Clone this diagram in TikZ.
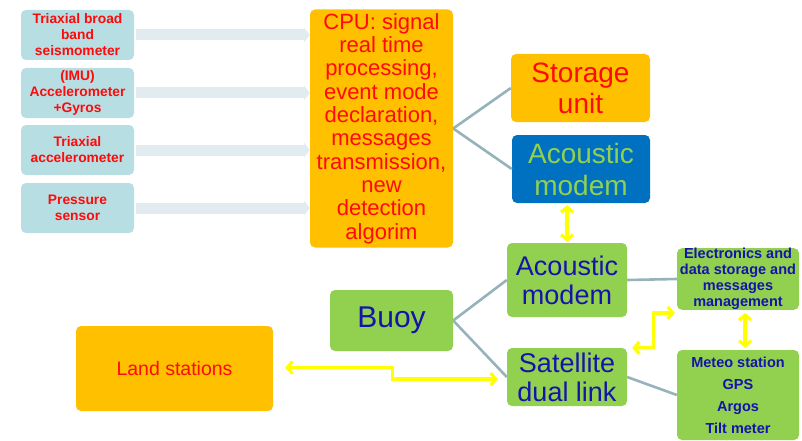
\documentclass[tikz,border=0pt]{standalone}
\usepackage{fontspec}
\setmainfont{Liberation Sans}
\usetikzlibrary{arrows.meta}
\definecolor{sensorfill}{RGB}{183,222,226}
\definecolor{lightarrow}{RGB}{226,236,240}
\definecolor{orangefill}{RGB}{255,192,0}
\definecolor{bluefill}{RGB}{0,112,192}
\definecolor{greenfill}{RGB}{146,208,80}
\definecolor{darkblue}{RGB}{20,20,170}
\definecolor{grayline}{RGB}{150,178,186}
\definecolor{yel}{RGB}{255,255,0}
\definecolor{redtext}{RGB}{255,10,10}
\tikzset{
  box/.style={rounded corners=5pt, inner sep=0pt, align=center},
  sensor/.style={box, fill=sensorfill, text=redtext, minimum width=113pt, minimum height=50pt,
     font=\fontsize{13.8}{16}\selectfont\bfseries},
  orangebox/.style={box, fill=orangefill, text=redtext},
  greenbox/.style={box, fill=greenfill, text=darkblue},
  feed/.style={draw=lightarrow, line width=11pt, -{Triangle[length=6pt,width=15pt]}},
  link/.style={draw=grayline, line width=2.6pt},
  yarrow/.style={draw=yel, line width=3.2pt, {Straight Barb[length=5pt,width=12pt]}-{Straight Barb[length=5pt,width=12pt]}},
}
\begin{document}
\begin{tikzpicture}[x=1pt,y=-1pt]
\path[use as bounding box] (0,0) rectangle (802,441);
% sensors
\node[sensor] (s1) at (77.5,35) {Triaxial broad\\band\\seismometer};
\node[sensor] (s2) at (77.5,93) {(IMU)\\Accelerometer\\+Gyros};
\node[sensor] (s3) at (77.5,150) {Triaxial\\accelerometer};
\node[sensor] (s4) at (77.5,208) {Pressure\\sensor};
% CPU
\node[orangebox, minimum width=143pt, minimum height=238pt,
  font=\fontsize{22}{23.3}\selectfont] (cpu) at (381.5,128.5)
  {CPU: signal\\real time\\processing,\\event mode\\declaration,\\messages\\transmission,\\new\\detection\\algorim};
\node[orangebox, minimum width=139pt, minimum height=68pt,
  font=\fontsize{28}{31}\selectfont] (stor) at (580.5,88) {Storage\\unit};
\node[box, fill=bluefill, text=greenfill, minimum width=138pt, minimum height=68pt,
  font=\fontsize{28}{32}\selectfont] (amb) at (581,169) {Acoustic\\modem};
% buoy side
\node[greenbox, minimum width=120pt, minimum height=74pt,
  font=\fontsize{27}{29}\selectfont] (amg) at (567,280) {Acoustic\\modem};
\node[greenbox, minimum width=120pt, minimum height=58pt,
  font=\fontsize{27}{29}\selectfont] (sat) at (567,377) {Satellite\\dual link};
\node[greenbox, minimum width=122pt, minimum height=60pt,
  font=\fontsize{14.5}{16}\selectfont\bfseries] (elec) at (738,279)
  {Electronics and\\data storage and\\messages\\management};
\node[greenbox, minimum width=122pt, minimum height=90pt,
  font=\fontsize{14.5}{22}\selectfont\bfseries] (meteo) at (738,395)
  {Meteo station\\GPS\\Argos\\Tilt meter};
\node[greenbox, minimum width=123pt, minimum height=61pt,
  font=\fontsize{30}{32}\selectfont] (buoy) at (391.5,320.5) {Buoy};
\node[orangebox, minimum width=197pt, minimum height=85pt,
  font=\fontsize{19.5}{22}\selectfont] (land) at (174.5,368.5) {Land stations};
% feed arrows
\foreach \s in {s1,s2,s3,s4}
  \draw[feed, shorten <=2pt] (\s.east) -- (cpu.west |- \s.east);
% gray links
\draw[link] (cpu.east) -- (stor.west);
\draw[link] (cpu.east) -- (amb.west);
\draw[link] (buoy.east) -- (amg.west);
\draw[link] (buoy.east) -- (sat.west);
\draw[link] (amg.east) -- (elec.west);
\draw[link] (sat.east) -- (meteo.west);
% yellow arrows
\draw[yarrow] ([yshift=-2pt]amb.south -| amg.north) -- ([yshift=1pt]amg.north);
\draw[yarrow] ([xshift=12pt,yshift=1pt]land.east) -- ++(107,0) |- ([xshift=-9pt,yshift=-2pt]sat.west);
\draw[yarrow] ([xshift=5pt]sat.north east) -- ++(21,0) |- ([xshift=-2pt,yshift=-3pt]elec.south west);
\draw[yarrow] ([xshift=7pt,yshift=-3pt]elec.south) -- ([xshift=7pt,yshift=2pt]meteo.north);
\end{tikzpicture}
\end{document}
